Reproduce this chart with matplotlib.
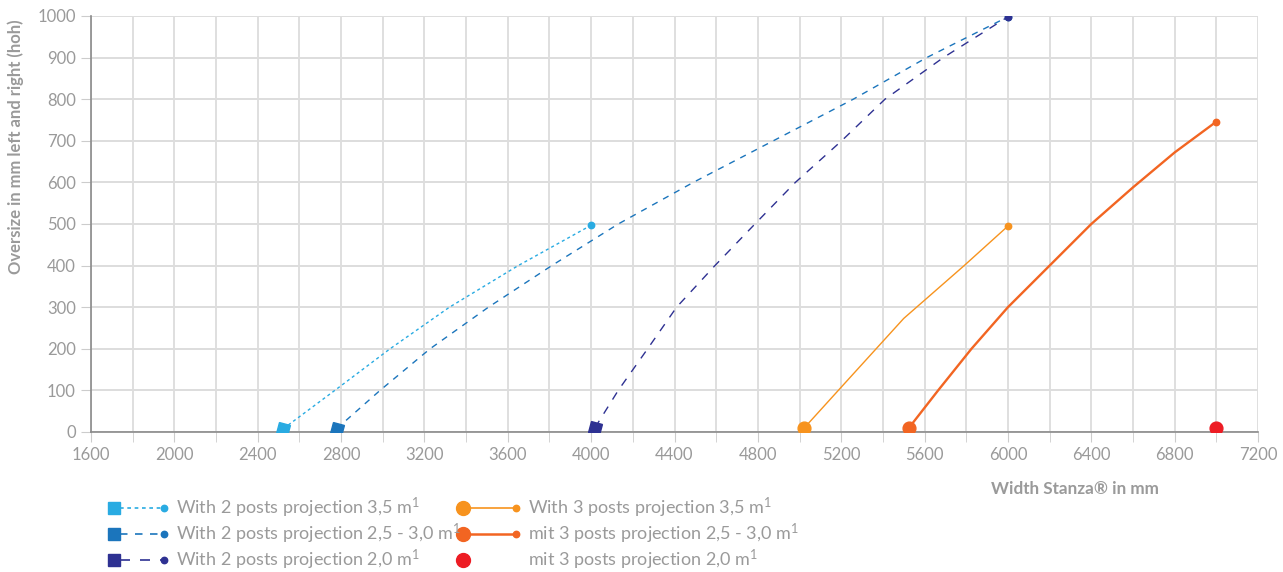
import matplotlib
matplotlib.use('Agg')
import matplotlib.pyplot as plt
from matplotlib.lines import Line2D
from matplotlib.ticker import MultipleLocator

plt.rcParams['font.family'] = ['Lato', 'DejaVu Sans']
plt.rcParams['mathtext.default'] = 'regular'

# series data (x = width in mm, y = oversize in mm)
x_2p_35 = [2523, 2770, 3035, 3320, 3650, 4000]
y_2p_35 = [8, 100, 200, 300, 400, 497]

x_2p_25 = [2779, 2987, 3227, 3507, 3811, 4130, 4490, 4874, 5258, 5610, 6000]
y_2p_25 = [8, 100, 200, 300, 400, 500, 600, 700, 800, 900, 998]

x_2p_20 = [4018, 4130, 4271, 4410, 4594, 4786, 4980, 5202, 5410, 5690, 6000]
y_2p_20 = [10, 100, 200, 300, 400, 500, 600, 700, 800, 900, 998]

x_3p_35 = [5023, 5186, 5500, 5790, 6000]
y_3p_35 = [10, 100, 273, 400, 495]

x_3p_25 = [5525, 5665, 5825, 6000, 6200, 6400, 6600, 6800, 7000]
y_3p_25 = [10, 100, 200, 300, 400, 500, 588, 672, 746]

x_3p_20 = [7000]
y_3p_20 = [10]

labels = ['With 2 posts projection 3,5 m$^1$',
          'With 2 posts projection 2,5 - 3,0 m$^1$',
          'With 2 posts projection 2,0 m$^1$',
          'With 3 posts projection 3,5 m$^1$',
          'mit 3 posts projection 2,5 - 3,0 m$^1$',
          'mit 3 posts projection 2,0 m$^1$']

c_lblue = '#29abe2'
c_blue = '#1b75bc'
c_dblue = '#2e3192'
c_lorange = '#f7931e'
c_orange = '#f26522'
c_red = '#ed1c24'
grey = '#9a9a9a'

dot_ls = (0, (2.2, 2.2))
dash_ls = (0, (4.5, 4.5))
ldash_ls = (0, (6, 6))

fig = plt.figure(figsize=(12.83, 5.72), dpi=100)
ax = fig.add_axes([91/1283, 1-432/572, 1167/1283, 416/572])

sq = (4, 0, 30)
series = [
    (x_2p_35, y_2p_35, c_lblue, dot_ls, 1.0, 's'),
    (x_2p_25, y_2p_25, c_blue, dash_ls, 1.0, 's'),
    (x_2p_20, y_2p_20, c_dblue, ldash_ls, 1.0, 's'),
    (x_3p_35, y_3p_35, c_lorange, '-', 1.0, 'o'),
    (x_3p_25, y_3p_25, c_orange, '-', 1.7, 'o'),
]
for xs, ys, c, ls, lw, m in series:
    ax.plot(xs, ys, color=c, lw=lw, linestyle=ls, zorder=3)
    if m == 's':
        ax.plot(xs[0], ys[0], marker=sq, ms=11.5, color=c, linestyle='none', zorder=4)
    else:
        ax.plot(xs[0], ys[0], marker='o', ms=9.2, color=c, linestyle='none', zorder=4)
    ax.plot(xs[-1], ys[-1], marker='o', ms=4.6, color=c, linestyle='none', zorder=4)
ax.plot(x_3p_20, y_3p_20, marker='o', ms=9.2, color=c_red, linestyle='none', zorder=4)

ax.set_xlim(1600, 7200)
ax.set_ylim(0, 1000)
ax.xaxis.set_major_locator(MultipleLocator(400))
ax.xaxis.set_minor_locator(MultipleLocator(200))
ax.yaxis.set_major_locator(MultipleLocator(100))
ax.grid(True, which='both', axis='x', color='#d9d9d9', lw=1.2)
ax.grid(True, which='major', axis='y', color='#dddddd', lw=1.4)
ax.set_axisbelow(True)
for s in ['top', 'right']:
    ax.spines[s].set_visible(False)
for s in ['left', 'bottom']:
    ax.spines[s].set_color('#8a8a8a')
    ax.spines[s].set_linewidth(1.2)
ax.tick_params(axis='x', which='both', length=7, color='#cccccc', labelcolor=grey, labelsize=12, pad=4)
ax.tick_params(axis='y', length=7, color='#cccccc', labelcolor=grey, labelsize=12, pad=4)
ax.tick_params(axis='x', which='minor', labelbottom=False)

ax.set_xlabel('Width Stanza® in mm', color=grey, fontsize=12.3, fontweight='bold')
ax.xaxis.set_label_coords(0.843, -0.118)
ax.set_ylabel('Oversize in mm left and right (hoh)', color=grey, fontsize=12, fontweight='bold')
ax.yaxis.set_label_coords(-0.0574, 0.686)

# legend drawn in pixel space below the plot
lg = fig.add_axes([0, 0, 1, 1], facecolor='none')
lg.set_xlim(0, 1283)
lg.set_ylim(572, 0)
lg.axis('off')
rows = [508, 534, 560]
left_items = [(c_lblue, dot_ls), (c_blue, dash_ls), (c_dblue, ldash_ls)]
for (c, ls), yy, lab in zip(left_items, rows, labels[:3]):
    lg.add_line(Line2D([120, 164], [yy, yy], color=c, linestyle=ls, lw=1.2))
    lg.plot(114, yy, marker='s', ms=8, color=c)
    lg.plot(164, yy, marker='o', ms=4.6, color=c)
    lg.text(176, yy, lab, color=grey, fontsize=13, va='center')
right_items = [(c_lorange, 1.2), (c_orange, 1.8), (c_red, 0)]
for (c, lw), yy, lab in zip(right_items, rows, labels[3:]):
    if lw > 0:
        lg.add_line(Line2D([463, 516], [yy, yy], color=c, lw=lw))
        lg.plot(516, yy, marker='o', ms=4.6, color=c)
    lg.plot(463, yy, marker='o', ms=10, color=c)
    lg.text(528, yy, lab, color=grey, fontsize=13, va='center')

fig.savefig('out.png', dpi=100)
